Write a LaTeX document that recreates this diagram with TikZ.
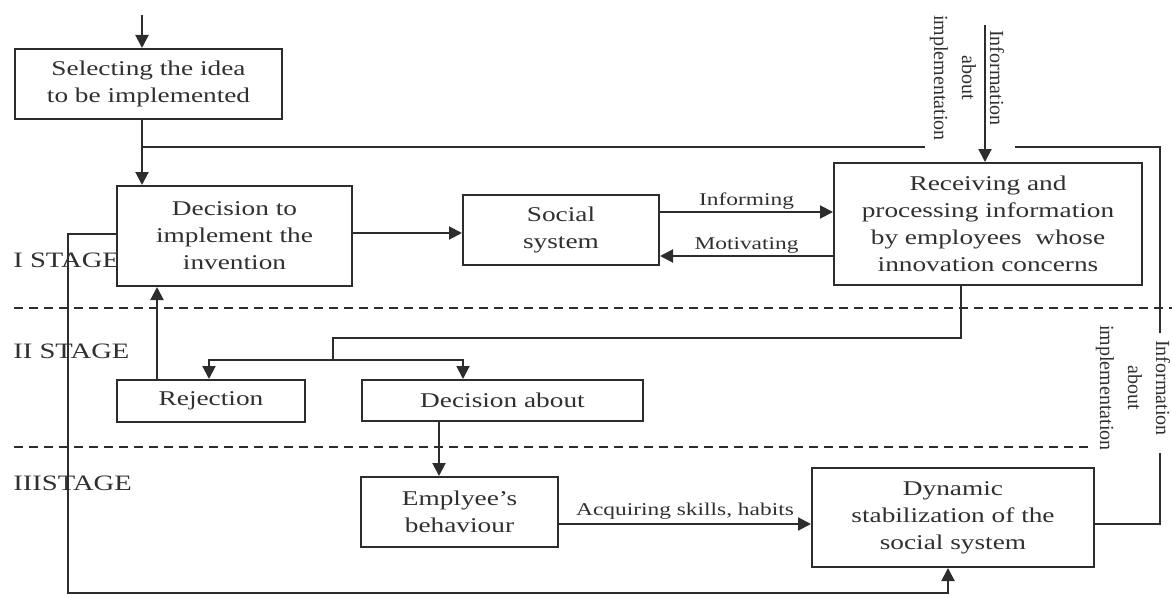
\documentclass[tikz,border=0pt]{standalone}
\usepackage{fontspec}
\setmainfont{Liberation Serif}[FakeStretch=1.3]
\newfontfamily\plainserif{Liberation Serif}
\usepackage{tikz}
\usetikzlibrary{arrows.meta,positioning}
\definecolor{inkgray}{RGB}{45,45,45}
\definecolor{textgray}{RGB}{48,48,48}

\tikzset{
    flowbox/.style={
        draw=inkgray,
        line width=1pt,
        fill=white,
        text=textgray,
        inner sep=0pt,
        align=center,
        font=\fontsize{10.5}{13.5}\selectfont
    },
    link/.style={draw=inkgray, line width=1pt},
    linkarrow/.style={link, -{Triangle[length=6.5pt,width=6.5pt]}},
    stageline/.style={draw=inkgray, line width=0.8pt, dash pattern=on 4.5pt off 3pt},
    stagelabel/.style={anchor=west, inner sep=0pt, text=textgray, font=\fontsize{11}{13}\selectfont},
    smalllabel/.style={inner sep=1pt, text=textgray, font=\fontsize{9}{11}\selectfont},
    rotlabel/.style={rotate=-90, align=center, inner sep=1pt, text=textgray,
        font=\plainserif\fontsize{10}{14}\selectfont}
}

\begin{document}
\begin{tikzpicture}[x=0.5pt,y=-0.5pt]
\useasboundingbox (0,0) rectangle (1172,599);

% stages
\node[stagelabel] (s1) at (13,260) {I STAGE};
\node[stagelabel] (s2) at (13,351) {II STAGE};
\node[stagelabel] (s3) at (13,483) {IIISTAGE};
\draw[stageline] (14,308) -- (1172,308);
\draw[stageline] (14,447) -- (1172,447);

% blocks
\node[flowbox, minimum width=133.5pt, minimum height=35pt] (sel) at (148.5,84)
    {Selecting the idea\\to be implemented};
\node[flowbox, minimum width=117.5pt, minimum height=50pt] (dec) at (234.5,236)
    {Decision to\\implement the\\invention};
\node[flowbox, minimum width=98pt, minimum height=35pt] (soc) at (561,230)
    {Social\\system};
\node[flowbox, minimum width=154pt, minimum height=61pt] (rec) at (988,224)
    {Receiving and\\processing information\\by employees~ whose\\innovation concerns};
\node[flowbox, minimum width=94pt, minimum height=21pt] (rej) at (211,401)
    {Rejection};
\node[flowbox, minimum width=140.5pt, minimum height=20.5pt] (dab) at (502.5,400.5)
    {Decision about};
\node[flowbox, minimum width=98.5pt, minimum height=35pt] (emp) at (459.5,512)
    {Emplyee's\\behaviour};
\node[flowbox, minimum width=141pt, minimum height=49.5pt] (dyn) at (953,517.5)
    {Dynamic\\stabilization of the\\social system};

% side labels
\node[rotlabel] (infoA) at (967,78) {Information\\about\\implementation};
\node[rotlabel, fill=white] (infoB) at (1133,388) {Information\\about\\implementation};

% connectors
\coordinate (start) at (142,15);
\coordinate (join) at (142,147);
\coordinate (infotop) at (985,25);
\draw[linkarrow] (start) -- (start |- sel.north);
\draw[linkarrow] (start |- sel.south) -- (start |- dec.north);
\draw[linkarrow] (infotop) -- (infotop |- rec.north);

\coordinate (d2s) at ([yshift=1.5pt]dec.east);
\draw[linkarrow] (d2s) -- (d2s -| soc.west);

\coordinate (inf) at ([yshift=9pt]soc.east);
\coordinate (mot) at ([yshift=-13pt]soc.east);
\draw[linkarrow] (inf) -- (inf -| rec.west)
    node[midway, above, smalllabel] {Informing};
\draw[linkarrow] (mot -| rec.west) -- (mot)
    node[midway, above, smalllabel] {Motivating};

\coordinate (rout) at ([xshift=-13.5pt]rec.south);
\coordinate (split) at (333,360);
\draw[link] (rout) |- (333,338) -- (split);
\draw[linkarrow] (split) -| ([xshift=-1pt]rej.north);
\draw[linkarrow] (split) -| ([xshift=-19.75pt]dab.north);

\coordinate (rup) at ([xshift=-27pt]rej.north);
\draw[linkarrow] (rup) -- (rup |- dec.south);

\coordinate (dout) at ([xshift=-31.75pt]dab.south);
\draw[linkarrow] (dout) -- (dout |- emp.north);

\coordinate (acq) at ([yshift=-6pt]emp.east);
\draw[linkarrow] (acq) -- (acq -| dyn.west)
    node[midway, above=1pt, smalllabel] {Acquiring skills, habits};

% feedback loops
\coordinate (back) at ([yshift=1pt]dec.west);
\draw[linkarrow] (back) -| (68,593) -| ([xshift=-2.5pt]dyn.south);

\coordinate (fbout) at ([yshift=-3.25pt]dyn.east);
\draw[link] (fbout) -| (1160,453);
\draw[link] (1160,333) |- (1015,147);
\draw[link] (925,147) -- (join);
\end{tikzpicture}
\end{document}
